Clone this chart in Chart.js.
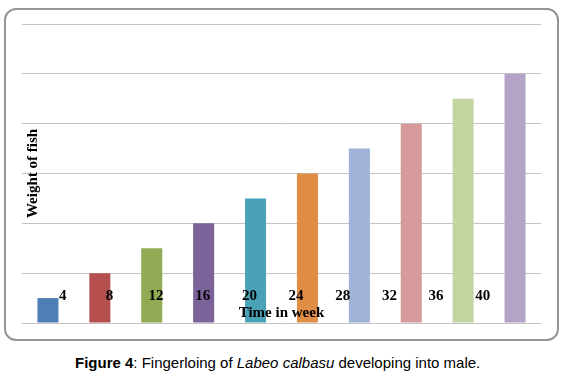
<!DOCTYPE html>
<html>
<head>
<meta charset="utf-8">
<script src="https://cdn.jsdelivr.net/npm/chart.js@4.4.0/dist/chart.umd.min.js"></script>
<style>
  body { margin: 0; background: #fff; width: 566px; height: 379px; position: relative; overflow: hidden; }
  #frame {
    position: absolute; left: 4px; top: 8px; width: 551px; height: 329px;
    border: 2px solid #959595; border-radius: 12px;
  }
  #wrap { position: absolute; left: 0; top: 0; width: 566px; height: 345px; }
  #caption {
    position: absolute; left: 75px; top: 354px; line-height: 17px;
    font-family: "Liberation Sans", Arial, sans-serif; font-size: 15px; color: #000; white-space: nowrap;
  }
</style>
</head>
<body>
<div id="frame"></div>
<div id="wrap"><canvas id="chart"></canvas></div>
<div id="caption"><b>Figure 4</b>: Fingerloing of <i>Labeo calbasu</i> developing into male.</div>
<script>
const categories = ["1", "2", "3", "4", "5", "6", "7", "8", "9", "10"];
const weights = [0.5, 1, 1.5, 2, 2.5, 3, 3.5, 4, 4.5, 5];
const weekLabels = [4, 8, 12, 16, 20, 24, 28, 32, 36, 40];
const barColors = [
  "#4f7db5", "#b5504e", "#93aa55", "#7b6299", "#4aa2b8",
  "#e08d46", "#9fb3d6", "#d69a9a", "#c2d4a0", "#b3a3c6"
];

// text that sits inside the plot area: week numbers + axis titles
const insideText = {
  id: "insideText",
  afterDatasetsDraw(chart) {
    const ctx = chart.ctx;
    const area = chart.chartArea;
    const weekScale = chart.scales.x2;
    ctx.save();
    ctx.fillStyle = "#000";
    ctx.font = "bold 15px 'Liberation Serif', 'Times New Roman', serif";
    ctx.textAlign = "center";
    ctx.textBaseline = "alphabetic";
    weekLabels.forEach((w) => {
      ctx.fillText(String(w), weekScale.getPixelForValue(w), area.bottom - 23);
    });
    ctx.fillText("Time in week", (area.left + area.right) / 2, area.bottom - 6);
    ctx.translate(area.left + 11, (area.top + area.bottom) / 2);
    ctx.rotate(-Math.PI / 2);
    ctx.textBaseline = "middle";
    ctx.fillText("Weight of fish", 0, 0);
    ctx.restore();
  },
};

new Chart(document.getElementById("chart"), {
  type: "bar",
  data: {
    labels: categories,
    datasets: [
      {
        data: weights,
        backgroundColor: barColors,
        borderWidth: 0,
        barPercentage: 0.405,
        categoryPercentage: 1,
      },
    ],
  },
  options: {
    responsive: true,
    maintainAspectRatio: false,
    animation: false,
    layout: { padding: { left: 22, right: 25, top: 24, bottom: 22 } },
    plugins: {
      legend: { display: false },
      tooltip: { enabled: false },
    },
    scales: {
      x: { display: false },
      x2: {
        type: "linear",
        display: false,
        offset: false,
        min: 0.5,
        max: 45,
      },
      y: {
        min: 0,
        max: 6,
        ticks: { display: false, stepSize: 1 },
        grid: { color: "#c4c4c4", lineWidth: 1, drawTicks: false },
        border: { display: false },
      },
    },
  },
  plugins: [insideText],
});
</script>
</body>
</html>
